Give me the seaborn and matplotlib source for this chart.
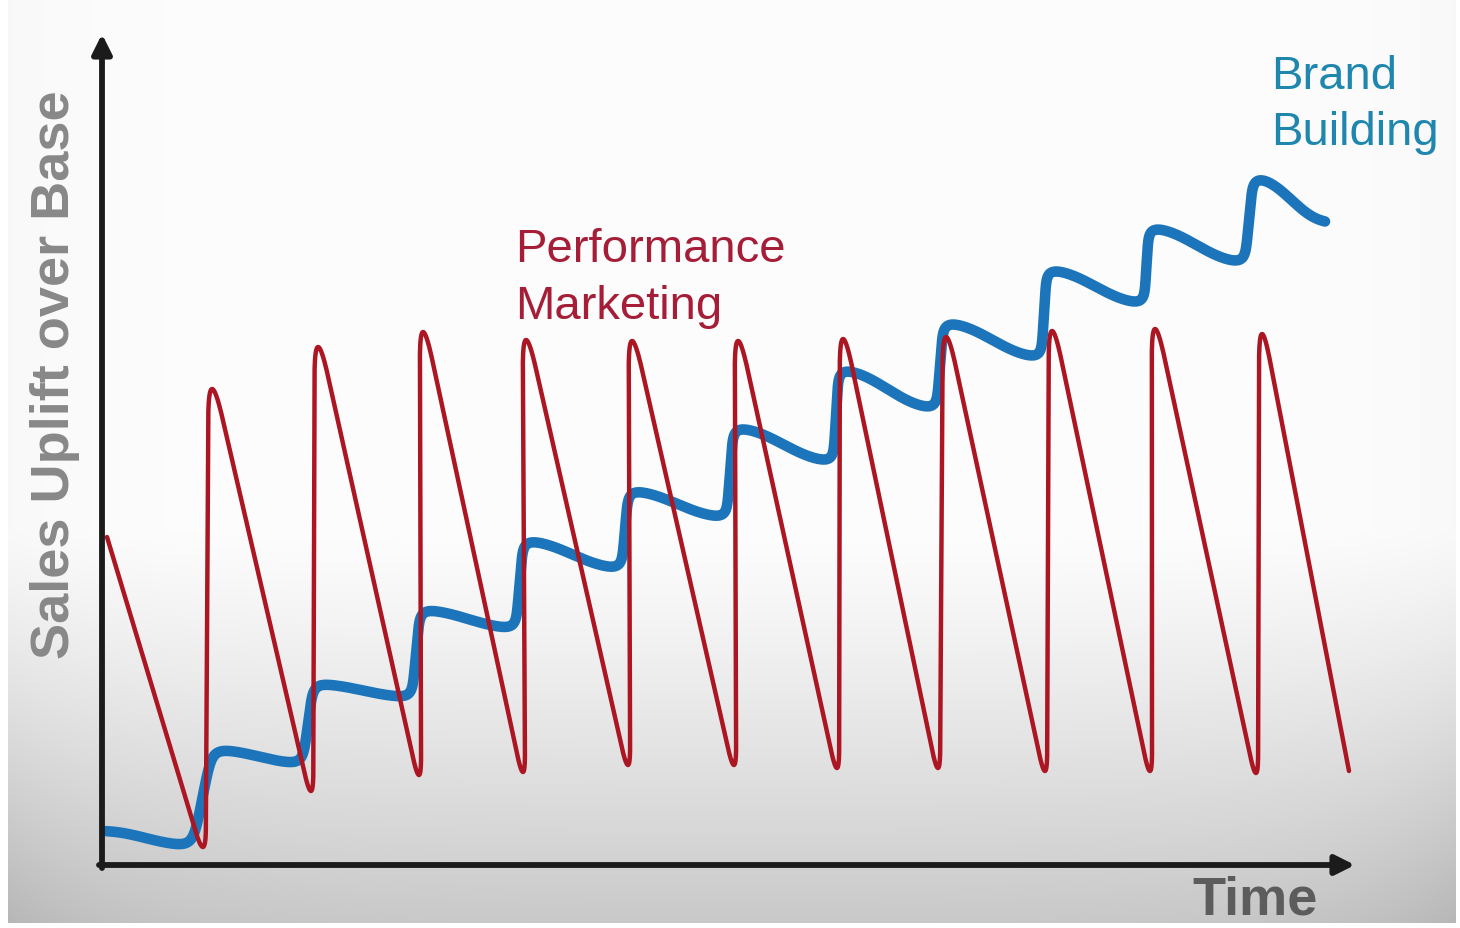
import numpy as np
import matplotlib
matplotlib.use("Agg")
import matplotlib.pyplot as plt
import seaborn as sns

# ---- data (time units along x, sales uplift along y) ----
# Performance marketing: start, then alternating trough / peak, then end
perf_time = [0.05, 1.01, 1.10, 2.09, 2.16, 3.17, 3.21, 4.21, 4.24, 5.26, 5.30,
             6.32, 6.36, 7.35, 7.41, 8.36, 8.44, 9.43, 9.50, 10.48, 10.53,
             11.54, 11.60, 12.47]
perf_uplift = [3.28, 0.18, 4.76, 0.74, 5.18, 0.90, 5.33, 0.93, 5.25, 1.00, 5.24,
               1.00, 5.24, 0.97, 5.26, 0.97, 5.28, 0.94, 5.34, 0.94, 5.36,
               0.92, 5.31, 0.94]

# Brand building: start, then alternating local minimum / local maximum, then end
brand_time = [0.01, 0.86, 1.15, 1.98, 2.14, 3.08, 3.20, 4.12, 4.23, 5.18, 5.28,
              6.23, 6.33, 7.30, 7.38, 8.33, 8.43, 9.38, 9.46, 10.41, 10.48,
              11.41, 11.53, 12.26]
brand_uplift = [0.34, 0.20, 1.15, 1.02, 1.81, 1.68, 2.55, 2.37, 3.24, 2.97, 3.74,
                3.48, 4.37, 4.04, 4.95, 4.57, 5.42, 5.08, 5.95, 5.62, 6.37,
                6.03, 6.87, 6.43]

x_label = "Time"
y_label = "Sales Uplift over Base"
perf_label = ["Performance", "Marketing"]
brand_label = ["Brand", "Building"]

RED_LINE = "#AC1522"
RED_TEXT = "#A51D36"
BLUE_LINE = "#1C75BA"
BLUE_TEXT = "#1F86AE"
AXIS_COLOR = "#1B1B1B"


def rounded_corners(xs, ys, r_up=0.5, r_down=0.3, n=30):
    """Polyline through the turning points, each corner replaced by a smooth arch."""
    pts = np.column_stack([xs, ys]).astype(float)
    out = [pts[0]]
    t = np.linspace(0, 1, n)[:, None]
    for i in range(1, len(pts) - 1):
        p, a, b = pts[i], pts[i - 1], pts[i + 1]
        la, lb = np.linalg.norm(a - p), np.linalg.norm(b - p)
        u1, u2 = (a - p) / la, (b - p) / lb
        r = r_up if p[1] > a[1] else r_down
        ri = min(r, 0.45 * la, 0.45 * lb)
        c = p - 0.25 * ri * (u1 + u2)          # arch apex lands on the turning point
        A, B = c + ri * u1, c + ri * u2
        out.extend((1 - t) ** 2 * A + 2 * (1 - t) * t * c + t ** 2 * B)
    out.append(pts[-1])
    out = np.array(out)
    return out[:, 0], out[:, 1]


def eased_wave(xs, ys, n=60):
    """Wave passing through successive extrema with flat tangents at each."""
    X, Y = [], []
    for i in range(len(xs) - 1):
        t = np.linspace(0, 1, n, endpoint=(i == len(xs) - 2))
        X.append(xs[i] + (xs[i + 1] - xs[i]) * t)
        Y.append(ys[i] + (ys[i + 1] - ys[i]) * (1 - np.cos(np.pi * t)) / 2)
    return np.concatenate(X), np.concatenate(Y)


def soften(x, y, sigma=0.06, step=0.004):
    """Gaussian smoothing along arc length to round off tight turns."""
    s = np.concatenate([[0], np.cumsum(np.hypot(np.diff(x), np.diff(y)))])
    su = np.arange(0, s[-1], step)
    xu, yu = np.interp(su, s, x), np.interp(su, s, y)
    half = int(4 * sigma / step)
    k = np.exp(-0.5 * (np.arange(-half, half + 1) * step / sigma) ** 2)
    k /= k.sum()
    xp = np.concatenate([np.full(half, xu[0]), xu, np.full(half, xu[-1])])
    yp = np.concatenate([np.full(half, yu[0]), yu, np.full(half, yu[-1])])
    return np.convolve(xp, k, "valid"), np.convolve(yp, k, "valid")


sns.set_theme(style="white")
plt.rcParams["font.family"] = ["Liberation Sans", "DejaVu Sans"]

W, H = 1460, 929
fig = plt.figure(figsize=(W / 100, H / 100), dpi=100)

# slide-like backdrop: white on top, fading to grey towards the bottom
yy = np.arange(H)[:, None].astype(float)
xx = np.arange(W)[None, :].astype(float)
fade = np.clip((yy - 530) / (923 - 530), 0, 1) ** 1.2
shade = 253 - 52 * fade
edge = np.exp(-(xx - 8) / 110) + np.exp(-(1455 - xx) / 110)
shade = shade - 14 * edge * (0.3 + fade)
inside = (xx >= 8) & (xx <= 1455) & (yy <= 923)
shade = np.where(inside, shade, 255)
bg = np.clip(np.repeat(shade[:, :, None], 3, axis=2) / 255.0, 0, 1)
bg_ax = fig.add_axes([0, 0, 1, 1], zorder=-10)
bg_ax.imshow(bg, aspect="auto", extent=(0, W, H, 0), interpolation="bilinear")
bg_ax.axis("off")

# plotting area: origin of the arrows at the lower-left corner
ax = fig.add_axes([102 / W, (H - 866) / H, 1258 / W, 836 / H])
ax.set_xlim(0, 12.58)
ax.set_ylim(0, 8.36)
ax.axis("off")
ax.patch.set_alpha(0)

bx, by = soften(*eased_wave(brand_time, brand_uplift), sigma=0.075)
sns.lineplot(x=bx, y=by, sort=False, estimator=None, ax=ax, color=BLUE_LINE,
             linewidth=7.6, solid_capstyle="round", legend=False, zorder=3,
             clip_on=False)

rx, ry = rounded_corners(perf_time, perf_uplift, r_up=0.5, r_down=0.32)
sns.lineplot(x=rx, y=ry, sort=False, estimator=None, ax=ax, color=RED_LINE,
             linewidth=3.2, legend=False, zorder=4, clip_on=False)

# axes drawn as arrows
arrow = dict(arrowstyle="-|>", lw=4.2, color=AXIS_COLOR, mutation_scale=29,
             shrinkA=0, shrinkB=0)
ax.annotate("", xy=(12.53, 0), xytext=(-0.03, 0), arrowprops=arrow,
            annotation_clip=False, zorder=5)
ax.annotate("", xy=(0, 8.31), xytext=(0, -0.03), arrowprops=arrow,
            annotation_clip=False, zorder=5)

# labels
fig.text(55 / W, 1 - 375 / H, y_label, rotation=90, ha="center", va="center",
         fontsize=39, fontweight="bold", color="#888888")
fig.text(1255 / W, 1 - 915 / H, x_label, ha="center", va="baseline",
         fontsize=39, fontweight="bold", color="#5C5C5C")

for i, line in enumerate(perf_label):
    fig.text(515 / W, 1 - (262 + 57 * i) / H, line, ha="left", va="baseline",
             fontsize=34, color=RED_TEXT)
for i, line in enumerate(brand_label):
    fig.text(1271 / W, 1 - (89 + 56 * i) / H, line, ha="left", va="baseline",
             fontsize=34, color=BLUE_TEXT)

fig.savefig("out.png", dpi=100)
